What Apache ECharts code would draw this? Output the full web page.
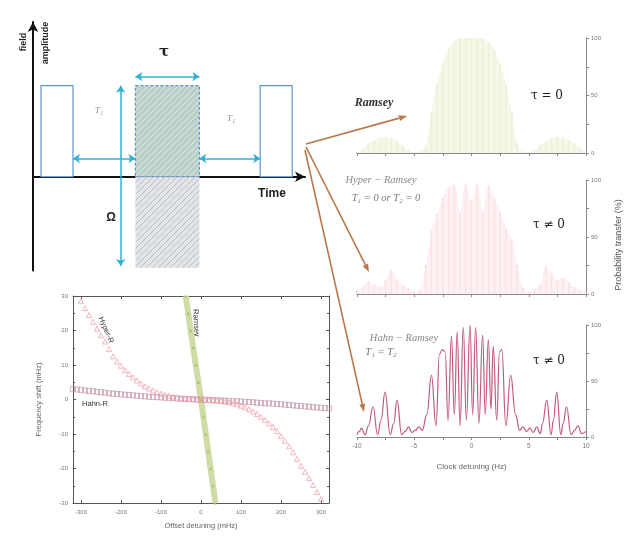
<!DOCTYPE html>
<html><head><meta charset="utf-8">
<script src="https://cdn.jsdelivr.net/npm/echarts@6/dist/echarts.min.js"></script>
<style>html,body{margin:0;padding:0;background:#fff}#c{width:627px;height:536px}</style>
</head><body><div id="c"></div>
<script>
// ===== Pulse diagram (time units, field amplitude units) =====
const outlinePulses = [[0.25, 1.25, 0, 1], [7.1, 8.1, 0, 1]];      // [t0, t1, a0, a1]
const phasePulseTop = [[3.2, 5.2, 0, 1]];
const phasePulseBottom = [[3.2, 5.2, -1, 0]];
const diagramArrows = [
  [[3.2, 1.1], [5.2, 1.1]],     // tau
  [[1.25, 0.2], [3.2, 0.2]],    // T1 gap
  [[5.2, 0.2], [7.1, 0.2]],     // T2 gap
  [[2.74, 1.0], [2.74, -0.98]]  // Omega
];

// ===== Frequency shift vs offset detuning (mHz) =====
const hyperX = [-300,-290,-280,-270,-260,-250,-240,-230,-220,-210,-200,-190,-180,-170,-160,-150,-140,-130,-120,-110,-100,-90,-80,-70,-60,-50,-40,-30,-20,-10,0,10,20,30,40,50,60,70,80,90,100,110,120,130,140,150,160,170,180,190,200,210,220,230,240,250,260,270,280,290,300];
const hyperShift = [28.5,26.5,24.5,22.5,20.5,18.6,16.8,14.6,12.5,11.0,9.8,8.5,7.4,6.4,5.5,4.6,3.8,3.2,2.6,2.1,1.7,1.4,1.1,0.8,0.6,0.4,0.3,0.2,0.1,0.05,0,-0.05,-0.1,-0.2,-0.3,-0.4,-0.6,-0.8,-1.1,-1.4,-1.8,-2.3,-2.8,-3.5,-4.2,-5.0,-5.9,-6.9,-8.0,-9.2,-10.6,-12.0,-13.6,-15.3,-17.2,-19.2,-21.0,-22.8,-24.8,-26.8,-28.8];
const hahnX = [-320,-310,-300,-290,-280,-270,-260,-250,-240,-230,-220,-210,-200,-190,-180,-170,-160,-150,-140,-130,-120,-110,-100,-90,-80,-70,-60,-50,-40,-30,-20,-10,0,10,20,30,40,50,60,70,80,90,100,110,120,130,140,150,160,170,180,190,200,210,220,230,240,250,260,270,280,290,300,310,320];
const hahnShift = [3.0,2.9,2.8,2.6,2.5,2.4,2.2,2.1,2.0,1.8,1.7,1.6,1.5,1.4,1.3,1.2,1.1,1.0,0.9,0.8,0.7,0.7,0.6,0.5,0.4,0.4,0.3,0.2,0.2,0.1,0.1,0.0,0.0,-0.1,-0.1,-0.2,-0.2,-0.3,-0.3,-0.4,-0.5,-0.5,-0.6,-0.7,-0.7,-0.8,-0.9,-1.0,-1.1,-1.1,-1.2,-1.3,-1.4,-1.5,-1.6,-1.7,-1.8,-1.9,-2.0,-2.1,-2.2,-2.3,-2.4,-2.5,-2.6];
const ramseyX = [-38,-32,-26,-19.5,-13,-6.5,0,6,12,18,24,30,36];
const ramseyShift = [30,25,20,15,10,5,0,-5,-10,-15,-20,-25,-30];

// ===== Probability transfer (%) vs clock detuning (Hz) =====
const fringeX = [-10,-9.5,-9,-8.5,-8,-7.5,-7,-6.5,-6,-5.5,-5,-4.5,-4,-3.5,-3,-2.5,-2,-1.5,-1,-0.5,0,0.5,1,1.5,2,2.5,3,3.5,4,4.5,5,5.5,6,6.5,7,7.5,8,8.5,9,9.5,10];
const ramseyFringe = [1,3,8,11,13,14,13,10,6,2,0.5,1,6,35,60,78,90,97,100,100,100,100,99,96,89,77,60,36,8,1,0.5,2,7,10,13,14,13,11,8,4,1];
const hyperFringe = [3,6,11,8,6,12,21,12,8,5,2,4,25,55,70,84,93,96,72,96,82,96,72,95,84,72,58,48,25,5,2,4,8,24,18,12,14,10,6,4,2];
const hahnFringeX = [-10,-9.8,-9.6,-9.3,-9.0,-8.6,-8.2,-7.9,-7.55,-7.1,-6.8,-6.5,-6.1,-5.8,-5.5,-5.2,-4.9,-4.6,-4.3,-3.9,-3.5,-3.1,-2.8,-2.55,-2.3,-2.05,-1.75,-1.5,-1.25,-1.0,-0.72,-0.45,-0.13,0.1,0.36,0.65,0.97,1.2,1.47,1.7,1.9,2.2,2.45,2.65,3.0,3.42,3.85,4.2,4.5,4.8,5.1,5.4,5.7,6.0,6.2,6.57,6.95,7.15,7.44,7.8,8.0,8.3,8.7,9.0,9.3,9.6,10];
const hahnFringe = [2,5,8,2,10,27,2,15,40,2,12,33,2,5,9,4,6,9,6,20,55,10,74,78,76,15,90,20,94,10,98,15,100,20,98,12,91,20,87,25,81,15,76,78,10,55,20,6,9,5,8,4,9,3,12,33,2,15,40,2,12,27,2,6,10,3,5];

const zip = (a, b) => a.map((v, i) => [v, b[i]]);

function hatch(bg, fg) {
  const c = document.createElement('canvas'); c.width = 6; c.height = 6;
  const g = c.getContext('2d');
  g.fillStyle = bg; g.fillRect(0, 0, 6, 6);
  g.strokeStyle = fg; g.lineWidth = 0.9;
  g.beginPath(); g.moveTo(0, 6); g.lineTo(6, 0); g.moveTo(-1, 1); g.lineTo(1, -1); g.moveTo(5, 7); g.lineTo(7, 5); g.stroke();
  return { image: c, repeat: 'repeat' };
}
function rectSeries(data, style) {
  return {
    type: 'custom', xAxisIndex: 0, yAxisIndex: 0, data, encode: { x: [0, 1], y: [2, 3] }, silent: true,
    renderItem(params, api) {
      const p0 = api.coord([api.value(0), api.value(3)]);
      const p1 = api.coord([api.value(1), api.value(2)]);
      return { type: 'rect', shape: { x: p0[0], y: p0[1], width: p1[0] - p0[0], height: p1[1] - p0[1] }, style: Object.assign({}, style) };
    }
  };
}
function arrow(x1, y1, x2, y2, color) {
  const a = Math.atan2(y2 - y1, x2 - x1), L = 8, W = 3;
  const bx = x2 - L * Math.cos(a), by = y2 - L * Math.sin(a);
  return [
    { type: 'line', shape: { x1, y1, x2: bx, y2: by }, style: { stroke: color, lineWidth: 1.6 } },
    { type: 'polygon', shape: { points: [[x2, y2], [bx + W * Math.sin(a), by - W * Math.cos(a)], [bx - W * Math.sin(a), by + W * Math.cos(a)]] }, style: { fill: color } }
  ];
}
function txt(text, x, y, o) {
  return { type: 'text', x, y, rotation: (o && o.rot) || 0,
    style: Object.assign({ text, align: 'center', verticalAlign: 'middle', fill: '#222', fontSize: 10, fontFamily: 'Liberation Sans' }, (o && o.style) || {}) };
}

const chart = echarts.init(document.getElementById('c'), null, { renderer: 'canvas' });
const grey = '#8a8a8a';
const smallLbl = { fontSize: 6, color: '#777', fontFamily: 'Liberation Sans' };
const fsTicks = [-300, -200, -100, 0, 100, 200, 300];

const rightGrids = [
  { left: 357, top: 38, width: 229, height: 115 },
  { left: 357, top: 180, width: 229, height: 114 },
  { left: 357, top: 325, width: 229, height: 112 }
];

const xAxes = [
  { gridIndex: 0, type: 'value', min: 0, max: 8.5, axisLine: { onZero: true, symbol: ['none', 'arrow'], symbolSize: [8, 10], lineStyle: { color: '#111', width: 2 } }, axisTick: { show: false }, axisLabel: { show: false }, splitLine: { show: false } },
  { gridIndex: 1, type: 'value', min: -320, max: 320, position: 'bottom',
    axisLine: { onZero: false, lineStyle: { color: '#555' } },
    axisLabel: Object.assign({ margin: 6, customValues: fsTicks }, smallLbl),
    axisTick: { inside: true, length: 3, customValues: fsTicks, lineStyle: { color: '#555' } },
    splitLine: { show: false },
    name: 'Offset detuning (mHz)', nameLocation: 'middle', nameGap: 19, nameTextStyle: { fontSize: 7.5, color: '#666', fontFamily: 'Liberation Sans' } },
  { gridIndex: 1, type: 'value', min: -320, max: 320, position: 'top', axisLine: { onZero: false, lineStyle: { color: '#555' } },
    axisTick: { inside: true, length: 3, customValues: fsTicks, lineStyle: { color: '#555' } },
    axisLabel: { show: false }, splitLine: { show: false } }
];
const yAxes = [
  { gridIndex: 0, type: 'value', min: -1.03, max: 1.7, axisLine: { onZero: false, symbol: ['none', 'arrow'], symbolSize: [8, 10], lineStyle: { color: '#111', width: 2 } }, axisTick: { show: false }, axisLabel: { show: false }, splitLine: { show: false } },
  { gridIndex: 1, type: 'value', min: -30, max: 30, interval: 10, position: 'left',
    axisLine: { onZero: false, lineStyle: { color: '#555' } }, axisTick: { inside: true, length: 3, lineStyle: { color: '#555' } },
    minorTick: { show: true, splitNumber: 2, length: 2, lineStyle: { color: '#555' } },
    axisLabel: Object.assign({ margin: 5 }, smallLbl), splitLine: { show: false },
    name: 'Frequency shift (mHz)', nameLocation: 'middle', nameGap: 30, nameTextStyle: { fontSize: 7.5, color: '#666', fontFamily: 'Liberation Sans' } },
  { gridIndex: 1, type: 'value', min: -30, max: 30, interval: 10, position: 'right',
    axisLine: { onZero: false, lineStyle: { color: '#555' } }, axisTick: { inside: true, length: 3, lineStyle: { color: '#555' } },
    minorTick: { show: true, splitNumber: 2, length: 2, lineStyle: { color: '#555' } },
    axisLabel: { show: false }, splitLine: { show: false } }
];
rightGrids.forEach((g, i) => {
  const gi = i + 2;
  const last = i === 2;
  xAxes.push({ gridIndex: gi, type: 'value', min: -10, max: 10, interval: 2.5,
    axisLine: { onZero: false, lineStyle: { color: grey } }, axisTick: { length: 3, lineStyle: { color: grey } },
    axisLabel: last ? Object.assign({ margin: 6, formatter: v => (v % 5 === 0 ? String(v) : '') }, smallLbl, { fontSize: 6.5 }) : { show: false },
    splitLine: { show: false },
    name: last ? 'Clock detuning (Hz)' : '', nameLocation: 'middle', nameGap: 26,
    nameTextStyle: { fontSize: 8, color: '#666', fontFamily: 'Liberation Sans' } });
  yAxes.push({ gridIndex: gi, type: 'value', min: 0, max: 100, interval: 25, position: 'right',
    axisLine: { onZero: false, lineStyle: { color: grey } }, axisTick: { length: 3, lineStyle: { color: grey } },
    axisLabel: Object.assign({ margin: 5, formatter: v => (v % 50 === 0 ? String(v) : '') }, smallLbl),
    splitLine: { show: false } });
});
// right-panel axis indices (grid 1 uses two x and two y axes)
const P1 = 3, P2 = 4, P3 = 5;

const series = [
  rectSeries(outlinePulses, { fill: '#fff', stroke: '#5b95d6', lineWidth: 1.2 }),
  rectSeries(phasePulseBottom, { fill: hatch('#e3e4e8', '#b7bbc3'), stroke: null }),
  rectSeries(phasePulseTop, { fill: hatch('#b9cfca', '#e3ece8'), stroke: '#5b95d6', lineWidth: 1.2, lineDash: [3, 2] }),
  { type: 'lines', coordinateSystem: 'cartesian2d', xAxisIndex: 0, yAxisIndex: 0, silent: true,
    symbol: ['arrow', 'arrow'], symbolSize: 7,
    lineStyle: { color: '#2fb2d6', width: 1.5, opacity: 1 },
    data: diagramArrows.map(c => ({ coords: c })) },

  { type: 'line', xAxisIndex: 1, yAxisIndex: 1, data: zip(ramseyX, ramseyShift), showSymbol: true,
    symbol: 'triangle', symbolSize: 3, itemStyle: { color: '#a9bd6a' },
    lineStyle: { color: '#cfdca6', width: 6 }, silent: true, z: 3 },
  { type: 'scatter', xAxisIndex: 1, yAxisIndex: 1, data: zip(hahnX, hahnShift), symbol: 'rect', symbolSize: 5,
    itemStyle: { color: 'rgba(255,255,255,0)', borderColor: '#c795ad', borderWidth: 0.9 }, silent: true, z: 4 },
  { type: 'scatter', xAxisIndex: 1, yAxisIndex: 1, data: zip(hyperX, hyperShift), symbol: 'triangle', symbolSize: 5,
    itemStyle: { color: 'rgba(255,255,255,0)', borderColor: '#f19aa6', borderWidth: 0.9 }, silent: true, z: 5 },

  { type: 'line', xAxisIndex: P1, yAxisIndex: P1, data: zip(fringeX, ramseyFringe), showSymbol: false, smooth: 0.4,
    lineStyle: { width: 0 }, areaStyle: { color: '#f3f6e4', opacity: 0.8 }, silent: true },
  { type: 'bar', xAxisIndex: P1, yAxisIndex: P1, data: zip(fringeX, ramseyFringe), barWidth: 1.4,
    itemStyle: { color: '#cdd99e' }, silent: true },
  { type: 'line', xAxisIndex: P2, yAxisIndex: P2, data: zip(fringeX, hyperFringe), showSymbol: false, smooth: 0.4,
    lineStyle: { width: 0 }, areaStyle: { color: '#fdeef0', opacity: 0.8 }, silent: true },
  { type: 'bar', xAxisIndex: P2, yAxisIndex: P2, data: zip(fringeX, hyperFringe), barWidth: 1.4,
    itemStyle: { color: '#f3b1ba' }, silent: true },
  { type: 'line', xAxisIndex: P3, yAxisIndex: P3, data: zip(hahnFringeX, hahnFringe), showSymbol: false,
    smooth: 0.45, smoothMonotone: 'x', lineStyle: { color: '#c25a7e', width: 1.2 }, silent: true }
];

const brown = '#b9774a';
const graphic = [].concat(
  arrow(306, 144, 407, 116, brown),
  arrow(306, 147, 369, 272, brown),
  arrow(305, 150, 364, 412, brown),
  [
    txt('field', 24, 42, { rot: Math.PI / 2, style: { fontSize: 9, fontWeight: 'bold' } }),
    txt('amplitude', 46, 43, { rot: Math.PI / 2, style: { fontSize: 9, fontWeight: 'bold' } }),
    txt('Time', 272, 194, { style: { fontSize: 12, fontWeight: 'bold' } }),
    txt('τ', 164, 52, { style: { fontSize: 15, fontWeight: 'bold', fontFamily: 'DejaVu Serif' } }),
    txt('Ω', 111, 218, { style: { fontSize: 12, fontWeight: 'bold' } }),
    txt('T₁', 99, 111, { style: { fontSize: 9, fill: '#888', fontStyle: 'italic', fontFamily: 'Liberation Serif' } }),
    txt('T₁', 231, 119, { style: { fontSize: 9, fill: '#888', fontStyle: 'italic', fontFamily: 'Liberation Serif' } }),

    txt('Hyper-R', 106, 330, { rot: -1.15, style: { fontSize: 7.5, fill: '#333' } }),
    txt('Ramsey', 196, 323, { rot: -Math.PI / 2 + 0.05, style: { fontSize: 7.5, fill: '#333' } }),
    txt('Hahn-R', 95, 404, { style: { fontSize: 7.5, fill: '#333' } }),

    txt('Ramsey', 374, 103, { style: { fontSize: 12, fontWeight: 'bold', fontStyle: 'italic', fontFamily: 'Liberation Serif', fill: '#333' } }),
    txt('τ = 0', 547, 96, { style: { fontSize: 12, fontFamily: 'DejaVu Serif', fill: '#222' } }),
    txt('Hyper − Ramsey', 381, 180, { style: { fontSize: 10.5, fontStyle: 'italic', fontFamily: 'Liberation Serif', fill: '#888' } }),
    txt('T₁ = 0 or T₂ = 0', 386, 198, { style: { fontSize: 10.5, fontStyle: 'italic', fontFamily: 'Liberation Serif', fill: '#777' } }),
    txt('τ ≠ 0', 549, 225, { style: { fontSize: 12, fontFamily: 'DejaVu Serif', fill: '#222' } }),
    txt('Hahn − Ramsey', 404, 338, { style: { fontSize: 10.5, fontStyle: 'italic', fontFamily: 'Liberation Serif', fill: '#888' } }),
    txt('T₁ = T₂', 381, 352, { style: { fontSize: 10.5, fontStyle: 'italic', fontFamily: 'Liberation Serif', fill: '#777' } }),
    txt('τ ≠ 0', 549, 361, { style: { fontSize: 12, fontFamily: 'DejaVu Serif', fill: '#222' } }),
    txt('Probability transfer (%)', 619, 245, { rot: Math.PI / 2, style: { fontSize: 9, fill: '#555' } })
  ]
);

chart.setOption({
  animation: false,
  backgroundColor: '#fff',
  grid: [
    { left: 33, top: 22, width: 272, height: 248.5 },
    { left: 73, top: 296, width: 256, height: 207 },
    ...rightGrids
  ],
  xAxis: xAxes,
  yAxis: yAxes,
  series,
  graphic
});
</script>
</body></html>
